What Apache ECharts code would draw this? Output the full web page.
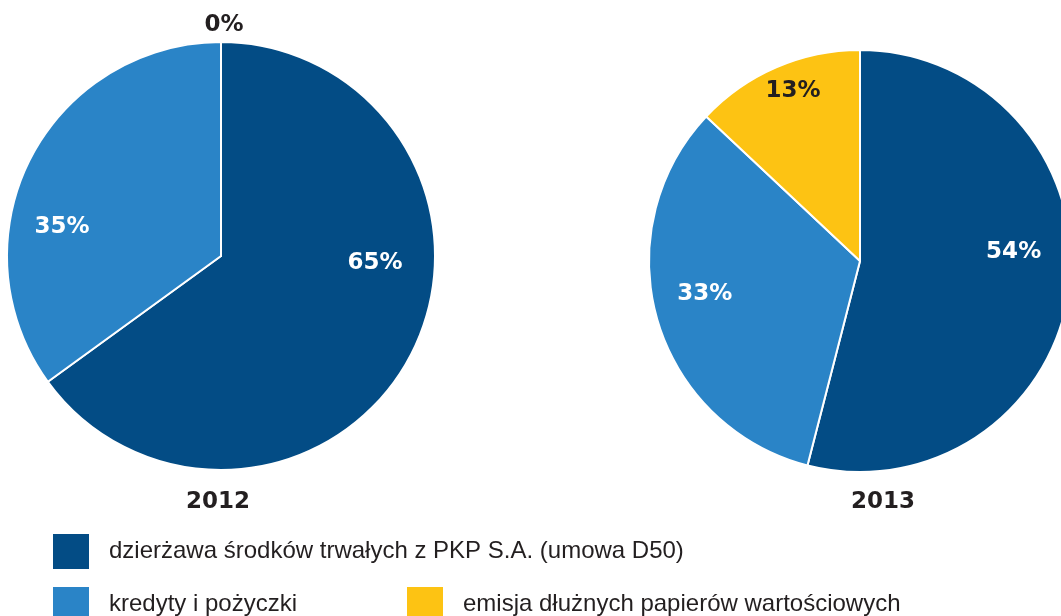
<!DOCTYPE html>
<html>
<head>
<meta charset="utf-8">
<script src="https://cdn.jsdelivr.net/npm/echarts@6/dist/echarts.min.js"></script>
<style>
  html, body { margin: 0; padding: 0; background: #ffffff; }
  #chart { width: 1061px; height: 616px; }
</style>
</head>
<body>
<div id="chart"></div>
<script>
// source structure per year, in percent
const categories = [
  'dzierżawa środków trwałych z PKP S.A. (umowa D50)',
  'kredyty i pożyczki',
  'emisja dłużnych papierów wartościowych'
];
const years = ['2012', '2013'];
const values2012 = [65, 35, 0];
const values2013 = [54, 33, 13];

const COLORS = ['#034c85', '#2a84c7', '#fdc313'];
const LABEL_INK = ['#ffffff', '#ffffff', '#231f20'];
const FONT = '"DejaVu Sans", sans-serif';

// label nudges away from the default inside position (per slice)
const offsets2012 = [[56, -43], [-61, 21], [3, -121]];
const offsets2013 = [[46, -23], [-51, 3], [-24, -70]];

function pieData(values, offsets) {
  return values.map((v, i) => ({
    name: categories[i],
    value: v,
    label: {
      color: LABEL_INK[i],
      offset: offsets[i],
    },
  }));
}

function pieSeries(values, offsets, center, radius) {
  return {
    type: 'pie',
    center,
    radius,
    startAngle: 90,
    clockwise: true,
    silent: true,
    animation: false,
    itemStyle: { borderColor: '#ffffff', borderWidth: 2 },
    label: {
      show: true,
      position: 'inside',
      formatter: '{c}%',
      fontFamily: FONT,
      fontWeight: 'bold',
      fontSize: 23,
    },
    labelLine: { show: false },
    data: pieData(values, offsets),
  };
}

function legendItem(name, left, top) {
  return {
    data: [name],
    left,
    top,
    orient: 'horizontal',
    icon: 'rect',
    itemWidth: 38,
    itemHeight: 37,
    selectedMode: false,
    textStyle: {
      fontFamily: '"Liberation Sans", Arial, sans-serif',
      fontSize: 24,
      color: '#231f20',
      padding: [0, 0, 0, 14],
    },
  };
}

const chart = echarts.init(document.getElementById('chart'), null, { renderer: 'canvas' });
chart.setOption({
  backgroundColor: '#ffffff',
  color: COLORS,
  title: years.map((y, i) => ({
    text: y,
    left: i === 0 ? 213 : 878,
    top: 486,
    textAlign: 'center',
    textStyle: { fontFamily: FONT, fontWeight: 'bold', fontSize: 23, color: '#231f20' },
  })),
  legend: [
    legendItem(categories[0], 46, 527),
    legendItem(categories[1], 46, 580),
    legendItem(categories[2], 400, 580),
  ],
  series: [
    pieSeries(values2012, offsets2012, [221, 256], 214),
    pieSeries(values2013, offsets2013, [860, 261], 211),
  ],
});
</script>
</body>
</html>
